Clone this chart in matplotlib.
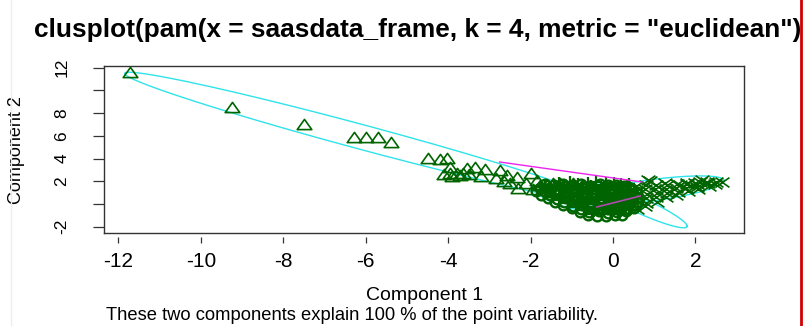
import numpy as np
import matplotlib.pyplot as plt
from matplotlib.path import Path
from matplotlib.lines import Line2D
from matplotlib.patches import Rectangle

plt.rcParams['font.family'] = ['Liberation Sans', 'DejaVu Sans']

# ---- data ----
title = 'clusplot(pam(x = saasdata_frame, k = 4, metric = "euclidean"))'
subtitle = 'These two components explain 100 % of the point variability.'

xticks = [-12, -10, -8, -6, -4, -2, 0, 2]
yticks = [-2, 0, 2, 4, 6, 8, 10, 12]
ytick_labels = ['-2', '', '2', '4', '6', '8', '', '12']

# cluster 1 (triangles)
tri_x = [-11.72, -9.25, -7.50, -6.29, -6.00, -5.70, -5.39,
         -4.49, -4.20, -4.03, -3.96, -3.96, -3.79, -3.64, -3.54, -3.35, -3.10,
         -2.74, -2.57, -2.33, -2.00, -2.50, -2.30, -2.10, -1.85, -1.77, -1.60,
         -1.46, -1.29, -0.97, -0.75,
         -4.10, -3.90, -3.70, -3.50, -3.20, -2.85, -2.65, -1.95, -1.70, -1.40, -1.10]
tri_y = [11.63, 8.55, 7.05, 5.90, 5.90, 5.90, 5.46,
         4.05, 3.96, 4.05, 3.26, 2.73, 2.73, 2.73, 3.17, 3.26, 3.08,
         3.00, 2.55, 2.38, 2.73, 1.85, 1.40, 1.85, 2.10, 1.67, 1.67,
         1.85, 1.85, 1.85, 1.67,
         2.60, 2.50, 2.55, 2.62, 2.45, 2.30, 2.05, 1.30, 1.20, 1.05, 1.20]

# cluster 2 (crosses)
crs_x = [0.85, 0.90, 1.26, 1.63, 1.80, 1.99, 2.11, 2.16, 2.28, 2.65,
         0.55, 0.57, 0.53, 0.56, 0.52, 0.58,
         0.80, 0.78, 0.82, 0.79, 0.81, 0.77,
         1.05, 1.03, 1.07, 1.04, 1.06,
         1.30, 1.28, 1.32, 1.29,
         1.55, 1.53, 1.57, 1.54,
         1.80, 1.78, 1.82,
         2.05, 2.03, 2.07,
         2.30, 2.32, 2.50, 2.47]
crs_y = [2.10, 2.05, 1.85, 1.67, 1.85, 1.85, 1.94, 2.10, 1.94, 1.94,
         1.55, 1.15, 0.75, 0.35, -0.05, -0.40,
         1.70, 1.30, 0.90, 0.50, 0.10, -0.20,
         1.65, 1.30, 0.95, 0.60, 0.20,
         1.70, 1.35, 1.00, 0.60,
         1.75, 1.45, 1.10, 0.80,
         1.75, 1.45, 1.15,
         1.80, 1.50, 1.30,
         1.85, 1.60, 1.90, 1.75]

# cluster 3 (circles, dense centre)
circ_x = [-1.66, -1.42, -1.21, -0.98, -0.77, -0.55, -0.31, -0.12, 0.08, 0.27,
          -1.78, -1.55, -1.33, -1.10, -0.88, -0.64, -0.43, -0.20, 0.03, 0.24, 0.46,
          -1.86, -1.63, -1.40, -1.19, -0.95, -0.74, -0.50, -0.28, -0.05, 0.17, 0.40, 0.58,
          -1.75, -1.52, -1.30, -1.07, -0.84, -0.62, -0.40, -0.17, 0.06, 0.29, 0.52,
          -1.58, -1.36, -1.14, -0.92, -0.69, -0.47, -0.25, -0.02, 0.21, 0.44, 0.62,
          -1.40, -1.18, -0.96, -0.73, -0.51, -0.29, -0.06, 0.16, 0.38, 0.60,
          -1.20, -0.98, -0.76, -0.54, -0.32, -0.09, 0.13, 0.35, 0.56,
          -1.00, -0.78, -0.56, -0.33, -0.11, 0.12, 0.34, 0.50,
          -0.80, -0.57, -0.35, -0.13, 0.10, 0.32,
          -0.60, -0.38, -0.16, 0.06, 0.22]
circ_y = [1.72, 1.65, 1.78, 1.69, 1.74, 1.62, 1.77, 1.70, 1.66, 1.58,
          1.38, 1.45, 1.33, 1.41, 1.36, 1.47, 1.35, 1.42, 1.31, 1.39, 1.28,
          1.12, 1.05, 1.15, 1.08, 1.13, 1.02, 1.10, 1.16, 1.04, 1.09, 1.00, 1.07,
          0.82, 0.76, 0.85, 0.79, 0.74, 0.83, 0.77, 0.81, 0.72, 0.80, 0.75,
          0.51, 0.46, 0.55, 0.43, 0.50, 0.57, 0.44, 0.52, 0.47, 0.41, 0.49,
          0.22, 0.15, 0.24, 0.18, 0.12, 0.21, 0.16, 0.25, 0.13, 0.19,
          -0.08, -0.14, -0.05, -0.12, -0.02, -0.15, -0.09, -0.04, -0.11,
          -0.38, -0.45, -0.36, -0.42, -0.48, -0.35, -0.41, -0.37,
          -0.68, -0.73, -0.66, -0.75, -0.69, -0.64,
          -0.97, -1.04, -1.08, -1.00, -0.93]

# cluster 4 (pluses, dense centre)
plus_x = [-1.30, -1.05, -0.85, -0.60, -0.40, -0.18, 0.02, 0.20, 0.38,
          -1.65, -1.44, -1.22, -0.99, -0.76, -0.53, -0.30, -0.08, 0.14, 0.35,
          -1.72, -1.50, -1.27, -1.03, -0.81, -0.58, -0.35, -0.13, 0.10, 0.32, 0.52,
          -1.64, -1.41, -1.18, -0.96, -0.73, -0.51, -0.28, -0.06, 0.17, 0.40,
          -1.47, -1.25, -1.02, -0.80, -0.57, -0.35, -0.12, 0.10, 0.33, 0.55,
          -1.30, -1.07, -0.85, -0.62, -0.40, -0.17, 0.05, 0.27, 0.49,
          -1.10, -0.87, -0.65, -0.42, -0.20, 0.02, 0.24, 0.45,
          -0.90, -0.67, -0.45, -0.22, 0.00, 0.23, 0.43,
          -0.70, -0.47, -0.24, -0.02, 0.21, 0.40,
          -0.50, -0.27, -0.05, 0.15]
plus_y = [1.83, 1.90, 1.80, 1.87, 1.93, 1.82, 1.88, 1.79, 1.74,
          1.56, 1.52, 1.58, 1.54, 1.50, 1.57, 1.53, 1.59, 1.51, 1.55,
          1.25, 1.21, 1.28, 1.23, 1.26, 1.20, 1.27, 1.24, 1.22, 1.26, 1.19,
          0.95, 0.92, 0.98, 0.93, 0.97, 0.91, 0.96, 0.94, 0.90, 0.97,
          0.65, 0.62, 0.68, 0.63, 0.66, 0.61, 0.67, 0.64, 0.60, 0.66,
          0.35, 0.32, 0.38, 0.33, 0.36, 0.31, 0.37, 0.34, 0.30,
          0.05, 0.02, 0.08, 0.03, 0.06, 0.01, 0.07, 0.04,
          -0.25, -0.28, -0.22, -0.27, -0.24, -0.29, -0.23,
          -0.55, -0.58, -0.52, -0.57, -0.54, -0.51,
          -0.85, -0.88, -0.82, -0.86]

# cluster ellipses: centre, horizontal half extent, slope of chord midline, vertical half width
ell_cx = [-6.10, 0.90, 0.65, -0.55]
ell_cy = [5.90, 1.18, -0.11, 0.35]
ell_ax = [5.75, 1.80, 1.15, 1.25]
ell_slope = [-0.972, 0.486, -1.60, -0.55]
ell_h = [1.12, 0.95, 0.75, 1.05]

# segments between clusters
seg_x0 = [-2.75, -0.39]
seg_y0 = [3.70, -0.26]
seg_x1 = [0.70, 0.66]
seg_y1 = [1.94, 0.70]

# ---- figure ----
W, H = 811, 326
fig = plt.figure(figsize=(W / 100, H / 100), dpi=100)
ax = fig.add_axes([104 / W, 1 - 233 / H, 640 / W, 167 / H])

green = '#006400'
cyan = '#2fe3ea'

t = np.linspace(0, 2 * np.pi, 300)
for cx, cy, a, s, h in zip(ell_cx, ell_cy, ell_ax, ell_slope, ell_h):
    ex = cx + a * np.cos(t)
    ey = cy + s * a * np.cos(t) + h * np.sin(t)
    ax.plot(ex, ey, color=cyan, lw=1.0, zorder=1)

tri = Path([(-1, -0.7), (1, -0.7), (0, 0.7), (-1, -0.7)], closed=True)
crs = Path([(-1, -0.7), (1, 0.7), (-1, 0.7), (1, -0.7)],
           [Path.MOVETO, Path.LINETO, Path.MOVETO, Path.LINETO])

ax.plot(circ_x, circ_y, ls='none', marker='o', ms=7, mfc='none', mec=green, mew=1.7, zorder=2)
ax.plot(plus_x, plus_y, ls='none', marker='+', ms=9, mec=green, mew=1.6, zorder=2)
ax.plot(crs_x, crs_y, ls='none', marker=crs, ms=10, mfc='none', mec=green, mew=1.2, zorder=2)
ax.plot(tri_x, tri_y, ls='none', marker=tri, ms=10.5, mfc='none', mec=green, mew=1.2, zorder=3)

ax.plot([seg_x0[0], seg_x1[0]], [seg_y0[0], seg_y1[0]], color='#ee22ee', lw=1.0, zorder=4)
ax.plot([seg_x0[1], seg_x1[1]], [seg_y0[1], seg_y1[1]], color='#b048b0', lw=1.2, zorder=4)

ax.set_xlim(-12.35, 3.18)
ax.set_ylim(-2.553, 12.15)
for sp in ax.spines.values():
    sp.set_color('#333333')
    sp.set_linewidth(1.0)

ax.set_yticks(yticks)
ax.set_yticklabels(ytick_labels, rotation=90, va='center')
ax.tick_params(axis='y', length=8, width=0.9, color='#333333', pad=17, labelsize=12.5)
ax.tick_params(axis='x', bottom=False, labelbottom=False)

sec = ax.secondary_xaxis(-4 / 167)
sec.set_xticks(xticks)
sec.set_xticklabels([str(v) for v in xticks])
for sp in sec.spines.values():
    sp.set_visible(False)
sec.tick_params(length=4.5, width=0.9, color='#333333', pad=6, labelsize=15)

fig.text(17 / W, 1 - 150 / H, 'Component 2', rotation=90, ha='center', va='center', fontsize=13)
fig.text(425 / W, 1 - 295 / H, 'Component 1', ha='center', va='center', fontsize=14)
fig.text(106 / W, 1 - 315.5 / H, subtitle, ha='left', va='center', fontsize=13.2)
fig.text(422 / W, 1 - 30 / H, title, ha='center', va='center', fontsize=18.9, fontweight='bold')

# right edge of the screenshot
fig.patches.append(Rectangle((800 / W, 0), 11 / W, 1, transform=fig.transFigure,
                             facecolor='white', edgecolor='none', zorder=5))
fig.lines.append(Line2D([801 / W, 801 / W], [0, 1], transform=fig.transFigure,
                        color='#d00000', lw=2.0, zorder=6))
fig.lines.append(Line2D([11 / W, 11 / W], [0, 1], transform=fig.transFigure,
                        color='#ededed', lw=1.0, zorder=6))

fig.savefig('out.png', dpi=100)
